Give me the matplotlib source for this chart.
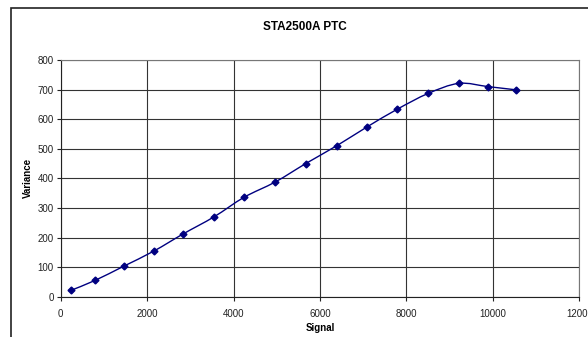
import matplotlib
matplotlib.use("Agg")
import matplotlib.pyplot as plt
from matplotlib.path import Path
from matplotlib.patches import PathPatch, Rectangle
import numpy as np

plt.rcParams['font.family'] = ['Liberation Sans', 'DejaVu Sans']

signal = [245, 794, 1458, 2153, 2831, 3549, 4243, 4968, 5671, 6396, 7090, 7792, 8503, 9213, 9891, 10546]
variance = [22, 55, 103, 154, 212, 270, 336, 388, 450, 511, 574, 634, 687, 721, 710, 699]
title = "STA2500A PTC"
xlabel = "Signal"
ylabel = "Variance"
xticks = [0, 2000, 4000, 6000, 8000, 10000, 12000]
yticks = [0, 100, 200, 300, 400, 500, 600, 700, 800]

W, H = 588, 337
fig = plt.figure(figsize=(W / 100, H / 100), dpi=100)

# chart-area frame (extends beyond right/bottom of image)
fig.patches.append(Rectangle((11 / W, -0.1), 1.2, 1 - 8 / H + 0.1, transform=fig.transFigure,
                             fill=False, edgecolor='#222222', linewidth=1.2))

ax = fig.add_axes([60.7 / W, 1 - 296.7 / H, (579.3 - 60.7) / W, (296.7 - 60) / H])
ax.set_xlim(0, 12000)
ax.set_ylim(0, 800)
ax.set_xticks(xticks)
ax.set_yticks(yticks)
ax.set_xticklabels([str(t) for t in xticks])
ax.tick_params(axis='both', labelsize=7, length=3, width=0.8, colors='#222222', pad=2)
ax.tick_params(axis='x', pad=6)
ax.grid(True, color='#333333', linewidth=0.8)
ax.set_axisbelow(True)
for side, sp in ax.spines.items():
    sp.set_color('#777777')
    sp.set_linewidth(0.8)
ax.spines['bottom'].set_color('#222222')
ax.spines['left'].set_color('#222222')

# smoothed line (Catmull-Rom style Bezier through data points)
x = np.array(signal, float)
y = np.array(variance, float)
verts = [(x[0], y[0])]
codes = [Path.MOVETO]
n = len(x)
for i in range(n - 1):
    x0, y0 = (x[i - 1], y[i - 1]) if i > 0 else (x[i], y[i])
    x3, y3 = (x[i + 2], y[i + 2]) if i + 2 < n else (x[i + 1], y[i + 1])
    c1 = (x[i] + (x[i + 1] - x0) / 6, y[i] + (y[i + 1] - y0) / 6)
    c2 = (x[i + 1] - (x3 - x[i]) / 6, y[i + 1] - (y3 - y[i]) / 6)
    verts += [c1, c2, (x[i + 1], y[i + 1])]
    codes += [Path.CURVE4] * 3
ax.add_patch(PathPatch(Path(verts, codes), facecolor='none', edgecolor='#000080', linewidth=1.0, zorder=3))
ax.plot(signal, variance, linestyle='none', marker='D', markersize=3.5, color='#000080', zorder=4)

fig.text(305 / W, 1 - 27 / H, title, ha='center', va='center', fontsize=8.5, fontweight='bold')
fig.text(320 / W, 1 - 328 / H, xlabel, ha='center', va='center', fontsize=7, fontweight='bold')
fig.text(28 / W, 1 - 178 / H, ylabel, ha='center', va='center', fontsize=7, fontweight='bold', rotation=90)

fig.savefig("out.png", dpi=100)
